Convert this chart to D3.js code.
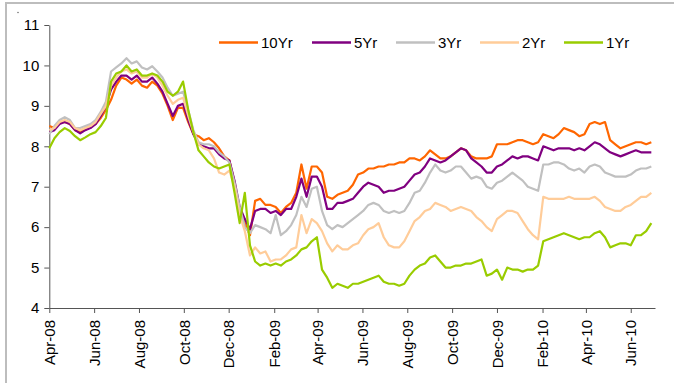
<!DOCTYPE html>
<html>
  <head>
    <meta charset="utf-8">
    <title>Yields by tenor</title>
    <script src="https://d3js.org/d3.v7.min.js"></script>
    <style>
      body { margin: 0; background: #fff; }
      svg { display: block; font-family: "Liberation Sans", Arial, sans-serif; }
      .axis path, .axis line { stroke: #555; }
      .axis text { font-size: 15px; fill: #000; }
    </style>
  </head>
  <body>
    <svg id="chart" width="674" height="383"></svg>
    <script>
      // weekly readings, starting 1 Apr 2008
      var startDate = new Date(2008, 3, 1);
      var seriesNames = ["10Yr", "5Yr", "3Yr", "2Yr", "1Yr"];
      var seriesColours = ["#ff6600", "#800080", "#c0c0c0", "#ffcc99", "#99cc00"];
      var yTicks = [4, 5, 6, 7, 8, 9, 10, 11];

      var yr10 = [8.5,8.45,8.6,8.6,8.55,8.4,8.35,8.45,8.5,8.55, 8.7,8.9,9.15,9.5,9.7,9.65,9.55,9.65,9.5,9.45,
        9.6,9.5,9.3,9.0,8.65,8.95,8.95,8.6,8.3,8.25, 8.15,8.2,8.1,7.95,7.75,7.65,7.1,6.4,6.1,5.8,
        6.65,6.7,6.55,6.55,6.5,6.35,6.5,6.6,6.85,7.55, 6.95,7.5,7.5,7.35,6.75,6.7,6.8,6.85,6.9,7.05,
        7.3,7.35,7.45,7.45,7.5,7.5,7.55,7.55,7.6,7.6, 7.7,7.7,7.65,7.75,7.9,7.8,7.7,7.7,7.75,7.85,
        7.95,7.9,7.75,7.7,7.7,7.7,7.75,8.05,8.05,8.05, 8.1,8.15,8.15,8.1,8.05,8.1,8.3,8.25,8.2,8.3,
        8.45,8.4,8.35,8.25,8.3,8.55,8.6,8.55,8.6,8.15, 8.05,7.95,8.0,8.05,8.1,8.1,8.05,8.1];
      var yr5 = [8.35,8.4,8.55,8.6,8.55,8.4,8.32,8.4,8.45,8.55, 8.75,9.0,9.4,9.6,9.75,9.75,9.65,9.75,9.6,9.6,
        9.7,9.55,9.35,9.05,8.75,9.0,9.05,8.65,8.3,8.05, 8.0,7.95,7.95,7.8,7.7,7.65,7.15,6.5,6.2,5.95,
        6.4,6.45,6.45,6.35,6.4,6.3,6.45,6.45,6.75,7.2, 6.75,7.25,7.25,7.0,6.45,6.45,6.6,6.6,6.65,6.7,
        6.85,7.0,7.1,7.05,7.0,6.85,6.9,6.9,6.95,7.0, 7.15,7.3,7.35,7.5,7.7,7.65,7.6,7.65,7.75,7.85,
        7.95,7.9,7.7,7.6,7.5,7.35,7.35,7.5,7.55,7.65, 7.75,7.7,7.75,7.75,7.7,7.65,8.0,7.95,7.9,7.95,
        7.95,7.95,7.9,7.95,7.9,8.0,8.1,8.05,7.95,7.85, 7.8,7.75,7.8,7.85,7.9,7.85,7.85,7.85];
      var yr3 = [8.3,8.5,8.65,8.72,8.65,8.45,8.45,8.5,8.55,8.65, 8.85,9.1,9.85,9.95,10.05,10.18,10.05,10.1,9.95,9.9,
        9.98,9.85,9.7,9.45,9.25,9.3,9.35,8.9,8.4,8.1, 8.05,8.05,8.0,7.85,7.75,7.6,7.1,6.5,6.0,5.85,
        6.05,6.0,5.95,5.85,6.3,5.8,5.9,6.05,6.3,6.75, 6.5,6.95,7.0,6.4,6.05,5.95,6.05,6.0,6.1,6.2,
        6.3,6.4,6.55,6.6,6.55,6.4,6.35,6.4,6.35,6.4, 6.6,6.85,6.9,7.1,7.35,7.55,7.4,7.35,7.4,7.5,
        7.5,7.35,7.2,7.25,7.2,7.0,6.95,7.1,7.15,7.25, 7.35,7.25,7.15,7.0,6.95,6.9,7.55,7.55,7.6,7.6,
        7.55,7.45,7.4,7.45,7.35,7.5,7.55,7.5,7.35,7.3, 7.25,7.25,7.25,7.3,7.4,7.45,7.45,7.5];
      var yr2 = [8.4,8.45,8.6,8.65,8.6,8.45,8.4,8.45,8.5,8.6, 8.8,9.0,9.5,9.7,9.85,9.9,9.8,9.85,9.7,9.7,
        9.8,9.7,9.5,9.25,9.05,9.15,9.2,8.75,8.35,8.05, 7.95,7.9,7.7,7.35,7.3,7.4,7.0,6.3,5.9,5.3,
        5.5,5.35,5.4,5.15,5.2,5.2,5.3,5.45,5.5,6.3, 5.85,6.2,6.1,5.9,5.6,5.4,5.55,5.45,5.45,5.55,
        5.6,5.8,5.95,6.0,6.1,5.75,5.55,5.5,5.5,5.65, 5.9,6.15,6.25,6.4,6.45,6.6,6.55,6.5,6.4,6.45,
        6.5,6.45,6.4,6.25,6.15,6.0,5.9,6.2,6.3,6.4, 6.4,6.35,6.15,5.95,5.8,5.7,6.75,6.7,6.7,6.7,
        6.7,6.75,6.7,6.7,6.7,6.7,6.75,6.65,6.5,6.45, 6.4,6.4,6.5,6.55,6.65,6.75,6.75,6.85];
      var yr1 = [7.95,8.2,8.35,8.45,8.38,8.25,8.15,8.22,8.3,8.35, 8.5,8.7,9.6,9.8,9.85,10.0,9.85,9.9,9.75,9.75,
        9.8,9.75,9.6,9.35,9.25,9.35,9.6,8.9,8.35,7.9, 7.75,7.6,7.5,7.45,7.5,7.55,6.85,6.1,6.85,5.55,
        5.15,5.05,5.1,5.05,5.1,5.05,5.15,5.2,5.3,5.45, 5.5,5.65,5.75,4.95,4.75,4.5,4.6,4.55,4.5,4.6,
        4.6,4.65,4.7,4.75,4.8,4.65,4.6,4.6,4.55,4.6, 4.8,4.95,5.05,5.1,5.25,5.3,5.15,5.0,5.0,5.05,
        5.05,5.1,5.1,5.15,5.2,4.8,4.85,4.95,4.7,5.0, 4.95,4.95,4.9,4.95,4.95,5.05,5.65,5.7,5.75,5.8,
        5.85,5.8,5.75,5.7,5.75,5.75,5.85,5.9,5.75,5.5, 5.55,5.6,5.6,5.55,5.8,5.8,5.9,6.1];

      var seriesValues = [yr10, yr5, yr3, yr2, yr1];
      var dates = yr10.map(function(d, i) { return d3.timeDay.offset(startDate, 7 * i); });

      var svg = d3.select("#chart");

      // outer frame
      svg.append("rect")
        .attr("x", 6).attr("y", 3)
        .attr("width", 680).attr("height", 390)
        .attr("fill", "none")
        .attr("stroke", "#bdbdbd")
        .attr("stroke-width", 2);
      svg.append("circle").attr("cx", 18).attr("cy", 12.5).attr("r", 0.7).attr("fill", "#555");

      var x = d3.scaleTime()
        .domain([startDate, new Date(2010, 6, 4)])
        .range([49.3, 655]);
      var y = d3.scaleLinear()
        .domain([4, 11])
        .range([308, 25]);

      // axes
      svg.append("g")
        .attr("class", "axis")
        .attr("transform", "translate(49.3,0)")
        .call(d3.axisLeft(y).tickValues(yTicks).tickFormat(d3.format("d"))
          .tickSize(5).tickSizeOuter(0).tickPadding(5));

      // every second month from Apr-08
      var monthTicks = d3.timeMonth.range(startDate, new Date(2010, 6, 2), 2);
      var xAxis = svg.append("g")
        .attr("class", "axis")
        .attr("transform", "translate(0,308)")
        .call(d3.axisBottom(x).tickValues(monthTicks).tickFormat(d3.timeFormat("%b-%y"))
          .tickSize(5).tickSizeOuter(0));
      xAxis.selectAll("text")
        .attr("x", -12)
        .attr("y", 0)
        .attr("dy", "0.35em")
        .attr("transform", "rotate(-90)")
        .style("text-anchor", "end");

      // series lines
      var line = d3.line()
        .x(function(d, i) { return x(dates[i]); })
        .y(function(d) { return y(d); });
      svg.append("g")
        .selectAll("path")
        .data(seriesValues)
        .enter().append("path")
          .attr("d", line)
          .attr("fill", "none")
          .attr("stroke", function(d, i) { return seriesColours[i]; })
          .attr("stroke-width", 2.2)
          .attr("stroke-linejoin", "round");

      // legend
      var legendX = [219, 312, 396, 480, 564];
      var legend = svg.append("g")
        .selectAll("g")
        .data(seriesNames)
        .enter().append("g")
          .attr("transform", function(d, i) { return "translate(" + legendX[i] + ",42.5)"; });
      legend.append("line")
        .attr("x1", 0).attr("x2", 39)
        .attr("stroke", function(d, i) { return seriesColours[i]; })
        .attr("stroke-width", 2.5);
      legend.append("text")
        .attr("x", 42)
        .attr("dy", "0.35em")
        .style("font-size", "15px")
        .text(function(d) { return d; });
    </script>
  </body>
</html>
